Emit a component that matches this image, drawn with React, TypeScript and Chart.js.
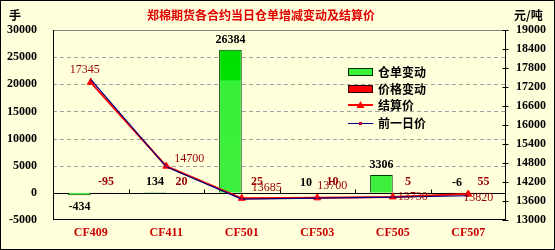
import { useEffect, useRef } from "react";
import { Chart, registerables } from "chart.js";
Chart.register(...registerables);

const categories = ["CF409", "CF411", "CF501", "CF503", "CF505", "CF507"];
const warehouseChange = [-434, 134, 26384, 10, 3306, -6];
const priceChange = [-95, 20, 25, 10, 5, 55];
const settlePrice = [17345, 14700, 13685, 13700, 13730, 13820];
const prevPrice = [17440, 14680, 13660, 13690, 13725, 13765];

const titleText = "郑棉期货各合约当日仓单增减变动及结算价";
const leftUnit = "手";
const rightUnit = "元/吨";
const seriesNames = ["仓单变动", "价格变动", "结算价", "前一日价"];

// label offsets (style) for settlement price labels, relative to point
const settleLabelOffsets = [[-6, -13], [23, -7], [25, -10], [15, -12], [20, 0], [10, 4]];

const BG = "#FFFFDC";
const NUM_FONT = "'Liberation Serif', 'Times New Roman', serif";
const CJK_FONT = "'Noto Sans CJK SC', sans-serif";

function line(ctx: CanvasRenderingContext2D, x1: number, y1: number, x2: number, y2: number) {
  ctx.beginPath();
  ctx.moveTo(x1, y1);
  ctx.lineTo(x2, y2);
  ctx.stroke();
}

const customPlugin = {
  id: "custom",
  beforeDraw(chart: any) {
    const { ctx, width, height } = chart;
    ctx.save();
    ctx.fillStyle = BG;
    ctx.fillRect(0, 0, width, height);
    ctx.restore();
  },
  beforeDatasetsDraw(chart: any) {
    const { ctx, chartArea: a, scales } = chart;
    const y = scales.y;
    const y1 = scales.y1;
    ctx.save();
    ctx.lineWidth = 1;
    ctx.strokeStyle = "#A0A0A0";
    ctx.setLineDash([4, 3]);
    y.ticks.forEach((t: any) => {
      if (t.value === 0 || t.value === y.min || t.value === y.max) return;
      const py = Math.round(y.getPixelForValue(t.value)) + 0.5;
      line(ctx, a.left, py, a.right, py);
    });
    ctx.setLineDash([]);
    ctx.strokeStyle = "#808080";
    line(ctx, a.left, Math.round(a.top) + 0.5, a.right, Math.round(a.top) + 0.5);
    ctx.strokeStyle = "#000000";
    const L = Math.round(a.left) + 0.5;
    const R = Math.round(a.right) - 0.5;
    const B = Math.round(a.bottom) - 0.5;
    line(ctx, L, a.top, L, a.bottom);
    line(ctx, a.left, B, a.right, B);
    line(ctx, R, a.top, R, a.bottom);
    const zy = Math.round(y.getPixelForValue(0)) + 0.5;
    line(ctx, a.left, zy, a.right, zy);
    const n = categories.length;
    for (let i = 1; i < n; i++) {
      const px = Math.round(a.left + (i * (a.right - a.left)) / n) + 0.5;
      line(ctx, px, zy - 4, px, zy);
    }
    y1.ticks.forEach((t: any) => {
      const py = Math.round(y1.getPixelForValue(t.value)) + 0.5;
      line(ctx, R - 3, py, R + 3, py);
    });
    ctx.restore();
  },
  afterDatasetsDraw(chart: any) {
    const { ctx, scales } = chart;
    const y = scales.y;
    const zy = y.getPixelForValue(0);
    ctx.save();
    ctx.textAlign = "center";
    ctx.textBaseline = "middle";
    // warehouse labels
    const m0 = chart.getDatasetMeta(0);
    ctx.font = `bold 12px ${NUM_FONT}`;
    ctx.fillStyle = "#000000";
    m0.data.forEach((el: any, i: number) => {
      const v = warehouseChange[i];
      const h = Math.abs(el.y - el.base);
      let ly;
      if (v < 0 && h > 1.5) ly = Math.max(el.y, el.base) + 12;
      else ly = Math.min(el.y, el.base) - 10;
      ctx.fillText(String(v), el.x, ly);
    });
    // price change labels
    const m1 = chart.getDatasetMeta(1);
    ctx.fillStyle = "#990000";
    m1.data.forEach((el: any, i: number) => {
      ctx.fillText(String(priceChange[i]), el.x + 4, zy - 11);
    });
    // settlement labels
    const m2 = chart.getDatasetMeta(2);
    ctx.font = `12px ${NUM_FONT}`;
    ctx.fillStyle = "#990000";
    m2.data.forEach((el: any, i: number) => {
      const o = settleLabelOffsets[i];
      ctx.fillText(String(settlePrice[i]), el.x + o[0], el.y + o[1]);
    });
    ctx.restore();
  },
  afterDraw(chart: any) {
    const { ctx, width, height } = chart;
    ctx.save();
    // title
    ctx.textBaseline = "middle";
    ctx.textAlign = "center";
    ctx.font = `bold 12px ${CJK_FONT}`;
    ctx.fillStyle = "#E00000";
    ctx.fillText(titleText, 261, 15);
    ctx.fillStyle = "#000000";
    ctx.textAlign = "left";
    ctx.fillText(leftUnit, 9, 15);
    ctx.fillText(rightUnit, 514, 15);
    // legend
    const lx = 348;
    const tx = 378;
    const rows = [72, 89, 105, 123];
    ctx.font = `bold 12px ${CJK_FONT}`;
    ctx.fillStyle = "#38F038";
    ctx.fillRect(lx, rows[0] - 4, 25, 8);
    ctx.strokeStyle = "#003300";
    ctx.lineWidth = 1;
    ctx.strokeRect(lx + 0.5, rows[0] - 3.5, 24, 7);
    ctx.fillStyle = "#FF0000";
    ctx.fillRect(lx, rows[1] - 4, 25, 8);
    ctx.strokeStyle = "#330000";
    ctx.strokeRect(lx + 0.5, rows[1] - 3.5, 24, 7);
    ctx.strokeStyle = "#FF0000";
    ctx.lineWidth = 2;
    line(ctx, lx, rows[2], lx + 25, rows[2]);
    ctx.fillStyle = "#FF0000";
    ctx.beginPath();
    ctx.moveTo(lx + 12.5, rows[2] - 4);
    ctx.lineTo(lx + 16.5, rows[2] + 3);
    ctx.lineTo(lx + 8.5, rows[2] + 3);
    ctx.closePath();
    ctx.fill();
    ctx.strokeStyle = "#000080";
    ctx.lineWidth = 1;
    line(ctx, lx, rows[3] + 0.5, lx + 25, rows[3] + 0.5);
    ctx.fillStyle = "#CC0033";
    ctx.fillRect(lx + 11, rows[3] - 1, 3, 3);
    ctx.fillStyle = "#000000";
    seriesNames.forEach((s, i) => ctx.fillText(s, tx, rows[i]));
    // outer border
    ctx.strokeStyle = "#000000";
    ctx.lineWidth = 1;
    ctx.strokeRect(0.5, 0.5, width - 1, height - 1);
    ctx.restore();
  },
};

export default function App() {
  const ref = useRef<HTMLCanvasElement | null>(null);
  useEffect(() => {
    document.body.style.margin = "0";
    const canvas = ref.current;
    if (!canvas) return;
    const chart = new Chart(canvas, {
      type: "bar",
      data: {
        labels: categories,
        datasets: [
          {
            type: "bar",
            label: seriesNames[0],
            data: warehouseChange,
            yAxisID: "y",
            order: 2,
            backgroundColor: (c: any) => {
              const ch = c.chart;
              const a = ch.chartArea;
              if (!a) return "#38F038";
              const g = ch.ctx.createLinearGradient(0, a.top, 0, a.bottom);
              g.addColorStop(0, "#00DC00");
              g.addColorStop(0.26, "#00E200");
              g.addColorStop(0.27, "#38F038");
              g.addColorStop(1, "#40F040");
              return g;
            },
            borderColor: "#004000",
            borderWidth: 1,
            categoryPercentage: 0.6,
            barPercentage: 1,
          },
          {
            type: "bar",
            label: seriesNames[1],
            data: priceChange,
            yAxisID: "y",
            order: 3,
            backgroundColor: "#FF0000",
            borderColor: "#330000",
            borderWidth: 1,
            categoryPercentage: 0.6,
            barPercentage: 1,
          },
          {
            type: "line",
            label: seriesNames[2],
            data: settlePrice,
            yAxisID: "y1",
            order: 1,
            borderColor: "#FF0000",
            backgroundColor: "#FF0000",
            borderWidth: 2,
            pointStyle: "triangle",
            pointRadius: 4,
            pointBorderWidth: 1,
          },
          {
            type: "line",
            label: seriesNames[3],
            data: prevPrice,
            yAxisID: "y1",
            order: 0,
            borderColor: "#000080",
            backgroundColor: "#CC0033",
            borderWidth: 1.2,
            pointStyle: "rect",
            pointRadius: 1.5,
            pointBorderWidth: 0,
          },
        ],
      },
      options: {
        animation: false,
        responsive: false,
        maintainAspectRatio: false,
        layout: { padding: { top: 30, left: 0, right: 0, bottom: 0 } },
        plugins: { legend: { display: false }, title: { display: false }, tooltip: { enabled: false } },
        scales: {
          x: {
            offset: true,
            grid: { display: false, drawTicks: false, tickLength: 0 },
            border: { display: false },
            ticks: {
              padding: 6,
              color: "#CC0000",
              font: { family: NUM_FONT, size: 12, weight: "bold" },
              maxRotation: 0,
              autoSkip: false,
            },
            afterFit: (s: any) => {
              s.height = 30;
            },
          },
          y: {
            position: "left",
            min: -5000,
            max: 30000,
            grid: { display: false, drawTicks: false, tickLength: 0 },
            border: { display: false },
            ticks: {
              stepSize: 5000,
              padding: 16,
              color: "#000000",
              font: { family: NUM_FONT, size: 12, weight: "bold" },
              callback: (v: any) => String(v),
            },
            afterFit: (s: any) => {
              s.width = 53;
            },
          },
          y1: {
            position: "right",
            min: 13000,
            max: 19000,
            grid: { display: false, drawTicks: false, tickLength: 0 },
            border: { display: false },
            ticks: {
              stepSize: 600,
              padding: 10,
              color: "#000000",
              font: { family: NUM_FONT, size: 12, weight: "bold" },
              callback: (v: any) => String(v),
            },
            afterFit: (s: any) => {
              s.width = 49;
            },
          },
        },
      },
      plugins: [customPlugin],
    } as any);
    return () => chart.destroy();
  }, []);
  return (
    <div style={{ width: 555, height: 250 }}>
      <canvas ref={ref} width={555} height={250} style={{ display: "block", width: 555, height: 250 }} />
    </div>
  );
}
